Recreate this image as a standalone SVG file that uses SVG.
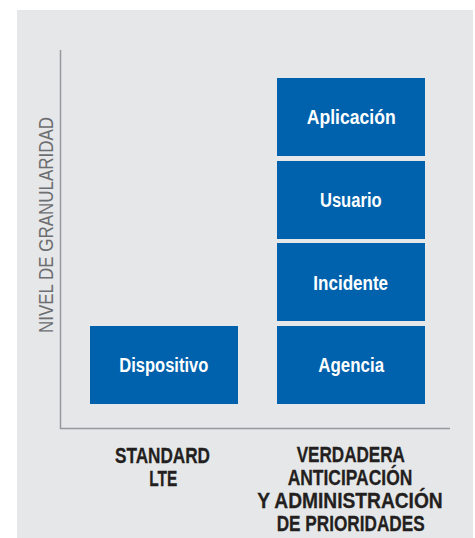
<svg xmlns="http://www.w3.org/2000/svg" width="475" height="538" viewBox="0 0 475 538">
  <style>
    .panel { fill: #e6e7e8; }
    .axis { stroke: #97999c; stroke-width: 1.5; fill: none; }
    .box { fill: #0061ad; }
    .box-label { font-family: "Liberation Sans", Arial, sans-serif; font-weight: bold; font-size: 19.5px; fill: #ffffff; text-anchor: middle; }
    .cat-label { font-family: "Liberation Sans", Arial, sans-serif; font-weight: bold; font-size: 22.5px; fill: #231f20; stroke: #231f20; stroke-width: 0.3; text-anchor: middle; }
    .axis-title { font-family: "Liberation Sans", Arial, sans-serif; font-size: 20px; fill: #6d6e71; text-anchor: middle; }
  </style>

  <!-- background panel -->
  <rect class="panel" x="17" y="10" width="456" height="528"/>

  <!-- chart axes -->
  <g id="axes">
    <line class="axis" x1="60.5" y1="50" x2="60.5" y2="429"/>
    <line class="axis" x1="60" y1="428.5" x2="450" y2="428.5"/>
  </g>

  <!-- vertical axis title -->
  <text class="axis-title" transform="translate(52.8,225) rotate(-90)" x="0" y="0" textLength="216" lengthAdjust="spacingAndGlyphs">NIVEL DE GRANULARIDAD</text>

  <!-- left column: standard LTE -->
  <g id="dispositivo">
    <rect class="box" x="90" y="326" width="148" height="78"/>
    <text class="box-label" x="163.8" y="371.7" textLength="89" lengthAdjust="spacingAndGlyphs">Dispositivo</text>
  </g>

  <!-- right column: stacked levels -->
  <g id="aplicacion">
    <rect class="box" x="277" y="78" width="148" height="78"/>
    <text class="box-label" x="351.2" y="124.3" textLength="89" lengthAdjust="spacingAndGlyphs">Aplicación</text>
  </g>
  <g id="usuario">
    <rect class="box" x="277" y="161" width="148" height="78"/>
    <text class="box-label" x="350.8" y="206.7" textLength="61.7" lengthAdjust="spacingAndGlyphs">Usuario</text>
  </g>
  <g id="incidente">
    <rect class="box" x="277" y="243" width="148" height="78"/>
    <text class="box-label" x="350.7" y="290" textLength="74.7" lengthAdjust="spacingAndGlyphs">Incidente</text>
  </g>
  <g id="agencia">
    <rect class="box" x="277" y="326" width="148" height="78"/>
    <text class="box-label" x="351.2" y="371.7" textLength="65.7" lengthAdjust="spacingAndGlyphs">Agencia</text>
  </g>

  <!-- category labels under the axis -->
  <g id="label-standard">
    <text class="cat-label" x="162.5" y="462.5" textLength="95" lengthAdjust="spacingAndGlyphs">STANDARD</text>
    <text class="cat-label" x="163.3" y="485.5" textLength="28" lengthAdjust="spacingAndGlyphs">LTE</text>
  </g>
  <g id="label-verdadera">
    <text class="cat-label" x="350.8" y="461.7" textLength="108.3" lengthAdjust="spacingAndGlyphs">VERDADERA</text>
    <text class="cat-label" x="350" y="485" textLength="124.6" lengthAdjust="spacingAndGlyphs">ANTICIPACIÓN</text>
    <text class="cat-label" x="350" y="508.3" textLength="185.4" lengthAdjust="spacingAndGlyphs">Y ADMINISTRACIÓN</text>
    <text class="cat-label" x="350.7" y="531" textLength="148" lengthAdjust="spacingAndGlyphs">DE PRIORIDADES</text>
  </g>
</svg>
